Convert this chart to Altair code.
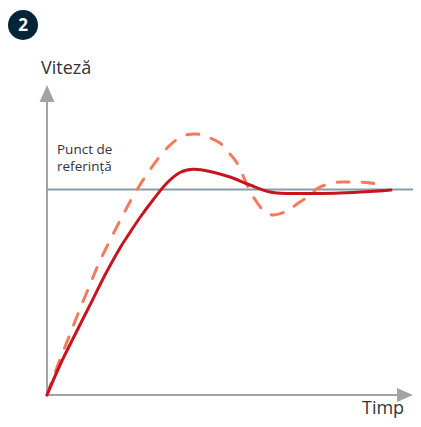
import altair as alt
import pandas as pd

# time / speed readings, measured from the axes' origin
actual_t = [0, 13, 26.3, 43, 58, 73, 80, 93, 106, 119.7, 133, 146.3, 163, 183, 203, 223, 243, 263, 293, 323, 344]
actual_v = [0, 30, 57, 90, 120, 147, 158, 177.5, 195, 211.7, 222.5, 225.7, 223.5, 218, 210, 203, 201.5, 201.5, 202, 203.5, 205]
over_t = [0, 5.3, 12, 21.5, 31.3, 42, 52, 64, 76, 88.6, 103.5, 119.7, 134.7, 148, 159.7, 173, 181, 190, 201, 207, 216, 226, 240, 250, 262, 271, 285, 297, 312, 324, 338]
over_v = [0, 15, 33, 57, 82, 108, 132, 156.7, 180, 203, 226, 246.7, 258.3, 261, 258.3, 252, 243, 232, 208, 197, 185, 180, 184, 191, 199, 207, 212, 213, 213, 212, 209]
setpoint_t = [0, 366]
setpoint_v = [205.5, 205.5]
axis_y_t = [0, 0]
axis_y_v = [0, 297]
axis_x_t = [0, 354]
axis_x_v = [0, 0]

X = alt.X("t:Q", scale=alt.Scale(domain=[-39, 366], nice=False, zero=False), axis=None)
Y = alt.Y("v:Q", scale=alt.Scale(domain=[-24, 387], nice=False, zero=False), axis=None)
GREY = "#a2a3a6"


def line(ts, vs, **kw):
    df = pd.DataFrame({"t": ts, "v": vs, "i": range(len(ts))})
    return alt.Chart(df).mark_line(**kw).encode(x=X, y=Y, order="i:Q")


def label(t, v, text, **kw):
    df = pd.DataFrame({"t": [t], "v": [v], "s": [text]})
    return alt.Chart(df).mark_text(align="left", baseline="alphabetic", **kw).encode(x=X, y=Y, text="s:N")


def arrow(t, v, angle, size):
    df = pd.DataFrame({"t": [t], "v": [v]})
    return alt.Chart(df).mark_point(
        shape="M0,-1L0.88,1L-0.88,1Z", size=size, filled=True, fill=GREY, opacity=1,
        strokeWidth=0, angle=angle
    ).encode(x=X, y=Y)


badge = alt.Chart(pd.DataFrame({"t": [-24], "v": [370]})).mark_point(
    shape="circle", size=900, filled=True, fill="#04243a", opacity=1, strokeWidth=0
).encode(x=X, y=Y)
badge_text = alt.Chart(pd.DataFrame({"t": [-24], "v": [370], "s": ["2"]})).mark_text(
    font="Open Sans", fontSize=17, fontWeight="bold", color="white", align="center", baseline="middle", dy=1
).encode(x=X, y=Y, text="s:N")

chart = alt.layer(
    line(axis_y_t, axis_y_v, color=GREY, strokeWidth=2),
    line(axis_x_t, axis_x_v, color=GREY, strokeWidth=2),
    arrow(0, 301.5, 0, 289),
    arrow(358, 0, 90, 256),
    line(setpoint_t, setpoint_v, color="#8b9ca8", strokeWidth=2),
    line(over_t, over_v, color="#f47a5c", strokeWidth=3, strokeDash=[12, 13], strokeCap="round", interpolate="cardinal"),
    line(actual_t, actual_v, color="#c8141f", strokeWidth=3, interpolate="cardinal", strokeCap="round"),
    badge,
    badge_text,
    label(-6, 321, "Viteză", font="Open Sans", fontSize=18, color="#333336"),
    label(315, -19, "Timp", font="Open Sans", fontSize=18, color="#333336"),
    label(10, 241.5, "Punct de", font="Open Sans", fontSize=13.5, color="#333336"),
    label(10, 224, "referință", font="Open Sans", fontSize=13.5, color="#333336"),
).properties(width=405, height=411, padding=0, autosize=alt.AutoSizeParams(type="none")).configure_view(stroke=None)

chart.save("out.html", embed_options={"renderer": "svg", "actions": False})
